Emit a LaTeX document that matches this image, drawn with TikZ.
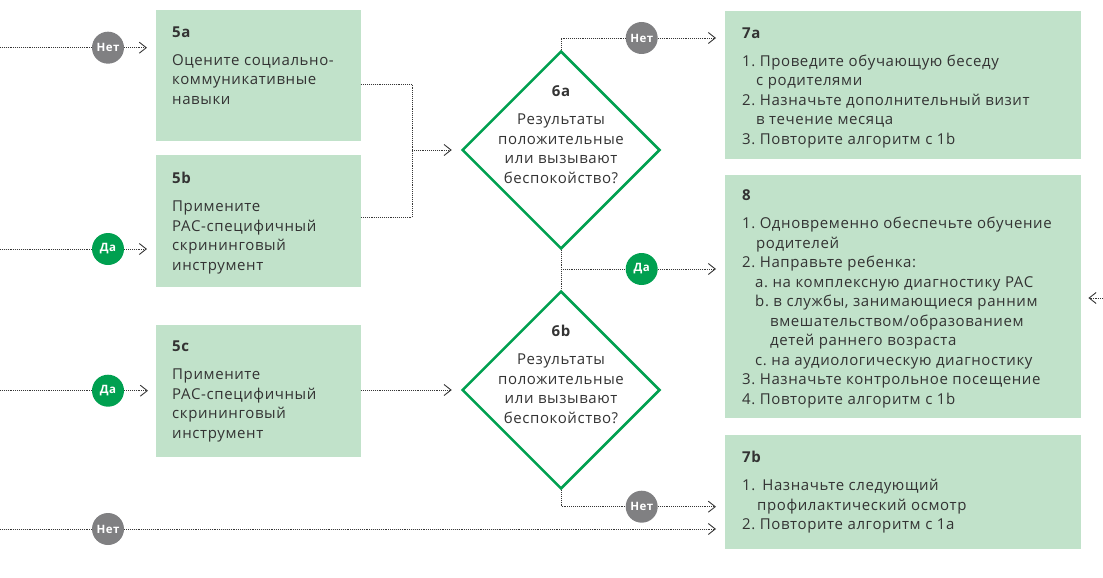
\documentclass[tikz,border=0pt]{standalone}
\usepackage{fontspec}
\setmainfont[LetterSpace=4]{Open Sans}
\usetikzlibrary{shapes.geometric,arrows.meta}
\definecolor{boxgreen}{RGB}{193,226,202}
\definecolor{dgreen}{RGB}{0,160,80}
\definecolor{netgray}{RGB}{128,128,130}
\definecolor{txtc}{RGB}{51,51,51}
\definecolor{linec}{RGB}{55,55,55}
\newcommand{\bodyfont}{\fontsize{15}{19.5}\selectfont}
\newcommand{\boxtext}[2]{\parbox[t]{#1pt}{\raggedright\bodyfont #2}}
\newcommand{\ind}[1]{\hspace*{#1pt}}
\begin{document}
\begin{tikzpicture}[x=1pt,y=-1pt,
  box/.style={rectangle,fill=boxgreen,draw=none,anchor=north west,inner sep=0},
  txt/.style={anchor=base west,inner sep=0,text=txtc},
  dia/.style={diamond,draw=dgreen,line width=2.5pt,minimum width=198,minimum height=198,inner sep=0,fill=white},
  dl/.style={draw=linec,line width=0.9pt,dash pattern=on 0.9pt off 1pt},
  arr/.style={-{Straight Barb[length=7pt,width=11pt,line width=0.9pt]}},
  yes/.style={circle,fill=dgreen,minimum size=32,inner sep=0,text=white,font=\fontsize{11.5}{12}\selectfont\bfseries},
  no/.style={circle,fill=netgray,minimum size=32,inner sep=0,text=white,font=\fontsize{11.5}{12}\selectfont\bfseries}
]
\useasboundingbox (0,0) rectangle (1103,578);

% boxes
\node[box,minimum width=205,minimum height=131] (b5a) at (156,10) {};
\node[box,minimum width=205,minimum height=132] (b5b) at (156,155) {};
\node[box,minimum width=205,minimum height=132] (b5c) at (156,325) {};
\node[box,minimum width=356,minimum height=148] (b7a) at (725,11) {};
\node[box,minimum width=356,minimum height=243] (b8) at (725,175) {};
\node[box,minimum width=356,minimum height=114] (b7b) at (725,435) {};

% diamonds
\node[dia] (d6a) at (561,150) {};
\node[dia] (d6b) at (561,390) {};

% texts
\node[txt] (t5a) at (172,37.3) {\boxtext{185}{{\bfseries 5a}\\[8.7pt]Оцените социально-\\коммуникативные\\навыки}};
\node[txt] (t5b) at (172,183.3) {\boxtext{185}{{\bfseries 5b}\\[8.7pt]Примените\\РАС-специфичный\\скрининговый\\инструмент}};
\node[txt] (t5c) at (172,351.7) {\boxtext{185}{{\bfseries 5c}\\[8.7pt]Примените\\РАС-специфичный\\скрининговый\\инструмент}};
\node[txt] (t7a) at (742,38.3) {\boxtext{335}{{\bfseries 7a}\\[8.7pt]1.~Проведите обучающую беседу\\\ind{14}с родителями\\2.~Назначьте дополнительный визит\\\ind{14}в течение месяца\\3.~Повторите алгоритм с 1b}};
\node[txt] (t8) at (742,200.7) {\boxtext{338}{{\bfseries 8}\\[8.7pt]1.~Одновременно обеспечьте обучение\\\ind{14}родителей\\2.~Направьте ребенка:\\\ind{13}a.~на комплексную диагностику РАС\\\ind{13}b.~в службы, занимающиеся ранним\\\ind{28}вмешательством/образованием\\\ind{28}детей раннего возраста\\\ind{13}c.~на аудиологическую диагностику\\3.~Назначьте контрольное посещение\\4.~Повторите алгоритм с 1b}};
\node[txt] (t7b) at (742,462.3) {\boxtext{335}{{\bfseries 7b}\\[8.7pt]1.~\,Назначьте следующий\\\ind{15}профилактический осмотр\\2.~Повторите алгоритм с 1a}};
\node[txt,anchor=base] (t6a) at (561,96.7) {\parbox[t]{170pt}{\centering\bodyfont{\bfseries 6a}\\[8.7pt]Результаты\\положительные\\или вызывают\\беспокойство?}};
\node[txt,anchor=base] (t6b) at (561,336.7) {\parbox[t]{170pt}{\centering\bodyfont{\bfseries 6b}\\[8.7pt]Результаты\\положительные\\или вызывают\\беспокойство?}};

% left inputs
\coordinate (s1) at (0,47.7);
\coordinate (s2) at (0,249);
\coordinate (s3) at (0,390.7);
\coordinate (s4) at (0,529);
\node[no] (n1) at (108,47.7) {Нет};
\node[yes] (y2) at (108,249) {Да};
\node[yes] (y3) at (108,390.7) {Да};
\node[no] (n4) at (108,529) {Нет};
\draw[dl] (s1) -- (n1);
\draw[dl,arr,shorten >=9pt] (n1) -- (n1 -| b5a.west);
\draw[dl] (s2) -- (y2);
\draw[dl,arr,shorten >=9pt] (y2) -- (y2 -| b5b.west);
\draw[dl] (s3) -- (y3);
\draw[dl,arr,shorten >=8pt] (y3) -- (y3 -| b5c.west);
\draw[dl] (s4) -- (n4);
\draw[dl,arr,shorten >=9pt] (n4) -- (n4 -| b7b.west);

% 5a,5b -> 6a
\coordinate (j1) at (412,84);
\coordinate (j2) at (412,217);
\coordinate (jm) at (412,150);
\draw[dl] (b5a.east |- j1) -- (j1) -- (j2) -- (b5b.east |- j2);
\draw[dl,arr,shorten >=9pt] (jm) -- (d6a.west);
% 5c -> 6b
\draw[dl,arr,shorten >=9pt] (b5c.east |- d6b) -- (d6b.west);

% 6a outputs
\node[no] (n6a) at (641.7,38) {Нет};
\draw[dl] (d6a.north) |- (n6a);
\draw[dl,arr,shorten >=9pt] (n6a) -- (n6a -| b7a.west);
\draw[dl] (d6a.south) -- (d6b.north);
\coordinate (c68) at (561,269);
\node[yes] (y68) at (641.7,269) {Да};
\draw[dl] (c68) -- (y68);
\draw[dl,arr,shorten >=9pt] (y68) -- (y68 -| b8.west);
% 6b output
\node[no] (n6b) at (641.7,506.7) {Нет};
\draw[dl] (d6b.south) |- (n6b);
\draw[dl,arr,shorten >=9pt] (n6b) -- (n6b -| b7b.west);

% right input to 8
\coordinate (r8) at (1103,298);
\draw[dl,arr,shorten >=7pt] (r8) -- (r8 -| b8.east);
\end{tikzpicture}
\end{document}
